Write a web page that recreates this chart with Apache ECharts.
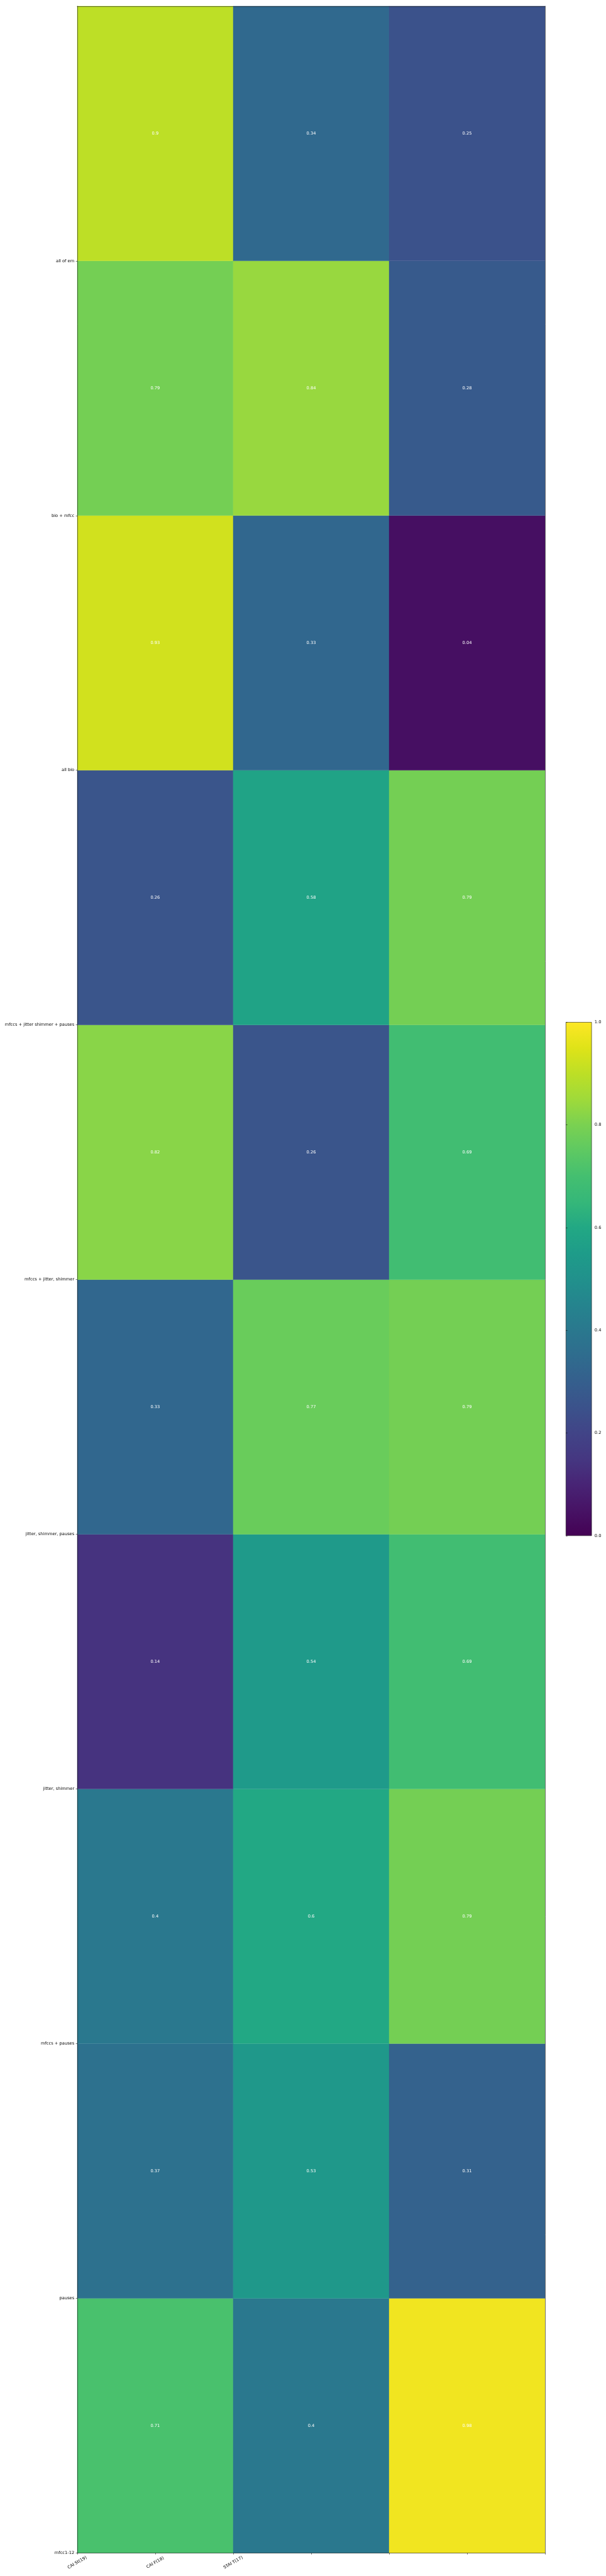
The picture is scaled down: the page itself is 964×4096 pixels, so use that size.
<!DOCTYPE html>
<html>
<head>
<meta charset="utf-8">
<script src="https://cdn.jsdelivr.net/npm/echarts@6/dist/echarts.min.js"></script>
<style>
html,body{margin:0;padding:0;background:#fff;}
#c{width:964px;height:4096px;}
</style>
</head>
<body>
<div id="c"></div>
<script>
// ---- data (row index 0 = bottom row) ----
const xLabels = ['CAI St(19)', 'CAI F(18)', 'STAI T(17)'];
const xLabelTicks = [0, 0.5, 1];
const xTicks = [0, 0.5, 1, 1.5, 2, 2.5, 3];
const yLabels = ['mfcc1-12', 'pauses', 'mfccs + pauses', 'jitter, shimmer', 'jitter, shimmer, pauses',
  'mfccs + jitter, shimmer', 'mfccs + jitter shimmer + pauses', 'all bio', 'bio + mfcc', 'all of em'];
const yTicks = [0, 1, 2, 3, 4, 5, 6, 7, 8, 9];
const colCAISt = [0.71, 0.37, 0.4, 0.14, 0.33, 0.82, 0.26, 0.93, 0.79, 0.9];
const colCAIF  = [0.4, 0.53, 0.6, 0.54, 0.77, 0.26, 0.58, 0.33, 0.84, 0.34];
const colSTAIT = [0.98, 0.31, 0.79, 0.69, 0.79, 0.69, 0.79, 0.04, 0.28, 0.25];
const colorbarTicks = [0, 0.2, 0.4, 0.6, 0.8, 1.0];

const viridis = ['#440154','#471365','#482475','#453781','#414487','#3b528b','#355f8d','#2f6c8e',
  '#2a788e','#25848e','#21918c','#1e9c89','#22a884','#35b779','#44bf70','#5ec962','#7ad151',
  '#9fda3a','#bddf26','#dfe318','#fde725'];

const columns = [colCAISt, colCAIF, colSTAIT];
const cells = [];
columns.forEach((col, ci) => col.forEach((v, ri) => cells.push([ci, ri, v])));

const S = 0.669;
const FS = 10 * S;
const FONT = 'DejaVu Sans';
const LW = 0.8 * S;
const TICKLEN = 3.5 * S;
const PAD = 7 * S;

const chart = echarts.init(document.getElementById('c'), null, {renderer: 'canvas'});

const gradStops = viridis.map((c, i) => ({offset: i / (viridis.length - 1), color: c}));

const option = {
  animation: false,
  backgroundColor: '#fff',
  grid: [
    {left: 183.7 * S, top: 14.7 * S, width: (1296 - 183.7) * S, height: (6068 - 14.7) * S, containLabel: false},
    {left: 1345.7 * S, top: 2429.7 * S, width: (1406.7 - 1345.7) * S, height: (3650 - 2429.7) * S, containLabel: false}
  ],
  visualMap: {
    type: 'continuous', show: false, min: 0, max: 1, dimension: 2, seriesIndex: 0,
    inRange: {color: viridis}
  },
  xAxis: [
    {
      type: 'value', gridIndex: 0, min: 0, max: 3, position: 'bottom', z: 10,
      splitLine: {show: false},
      axisLine: {show: true, onZero: false, lineStyle: {color: '#000', width: LW}},
      axisTick: {show: true, customValues: xTicks, length: TICKLEN, lineStyle: {color: '#000', width: LW}},
      axisLabel: {
        show: true, customValues: xLabelTicks, rotate: 30, align: 'center', verticalAlign: 'middle',
        margin: 22.7 * S, color: '#000', fontSize: FS, fontFamily: FONT,
        formatter: v => { const i = xLabelTicks.indexOf(v); return i >= 0 ? xLabels[i] : ''; }
      }
    },
    {
      type: 'value', gridIndex: 0, min: 0, max: 3, position: 'top', z: 10,
      splitLine: {show: false},
      axisLine: {show: true, onZero: false, lineStyle: {color: '#000', width: LW}},
      axisTick: {show: false}, axisLabel: {show: false}
    },
    {
      type: 'value', gridIndex: 1, min: 0, max: 1, show: false
    }
  ],
  yAxis: [
    {
      type: 'value', gridIndex: 0, min: 0, max: 10, position: 'left', z: 10,
      splitLine: {show: false},
      axisLine: {show: true, onZero: false, lineStyle: {color: '#000', width: LW}},
      axisTick: {show: true, customValues: yTicks, length: TICKLEN, lineStyle: {color: '#000', width: LW}},
      axisLabel: {
        show: true, customValues: yTicks, margin: PAD, color: '#000', fontSize: FS, fontFamily: FONT,
        formatter: v => yLabels[Math.round(v)] || ''
      }
    },
    {
      type: 'value', gridIndex: 0, min: 0, max: 10, position: 'right', z: 10,
      splitLine: {show: false},
      axisLine: {show: true, onZero: false, lineStyle: {color: '#000', width: LW}},
      axisTick: {show: false}, axisLabel: {show: false}
    },
    {
      type: 'value', gridIndex: 1, min: 0, max: 1, position: 'right', z: 10,
      splitLine: {show: false},
      axisLine: {show: false},
      axisTick: {show: true, customValues: colorbarTicks, length: TICKLEN, lineStyle: {color: '#000', width: LW}},
      axisLabel: {
        show: true, customValues: colorbarTicks, margin: PAD, color: '#000', fontSize: FS, fontFamily: FONT,
        formatter: v => v.toFixed(1)
      }
    }
  ],
  series: [
    {
      type: 'custom', xAxisIndex: 0, yAxisIndex: 0,
      data: cells,
      encode: {x: 0, y: 1},
      renderItem: function (params, api) {
        const x = api.value(0), y = api.value(1), v = api.value(2);
        const p0 = api.coord([x, y + 1]);
        const p1 = api.coord([x + 1, y]);
        const c = api.coord([x + 0.5, y + 0.5]);
        return {
          type: 'group',
          children: [
            {
              type: 'rect',
              shape: {x: p0[0], y: p0[1], width: p1[0] - p0[0], height: p1[1] - p0[1]},
              style: {fill: api.visual('color'), stroke: api.visual('color'), lineWidth: 0.3}
            },
            {
              type: 'text', x: c[0], y: c[1],
              style: {
                text: String(v), fill: '#fff', fontSize: FS, fontFamily: FONT,
                align: 'center', verticalAlign: 'middle', textAlign: 'center', textVerticalAlign: 'middle'
              }
            }
          ]
        };
      }
    },
    {
      type: 'custom', xAxisIndex: 2, yAxisIndex: 2,
      data: [[0, 0, 1, 1]],
      renderItem: function (params, api) {
        const p0 = api.coord([api.value(0), api.value(3)]);
        const p1 = api.coord([api.value(2), api.value(1)]);
        return {
          type: 'rect',
          shape: {x: p0[0], y: p0[1], width: p1[0] - p0[0], height: p1[1] - p0[1]},
          style: {
            fill: new echarts.graphic.LinearGradient(0, 1, 0, 0, gradStops),
            stroke: '#000', lineWidth: LW
          }
        };
      }
    }
  ]
};
chart.setOption(option);
</script>
</body>
</html>
